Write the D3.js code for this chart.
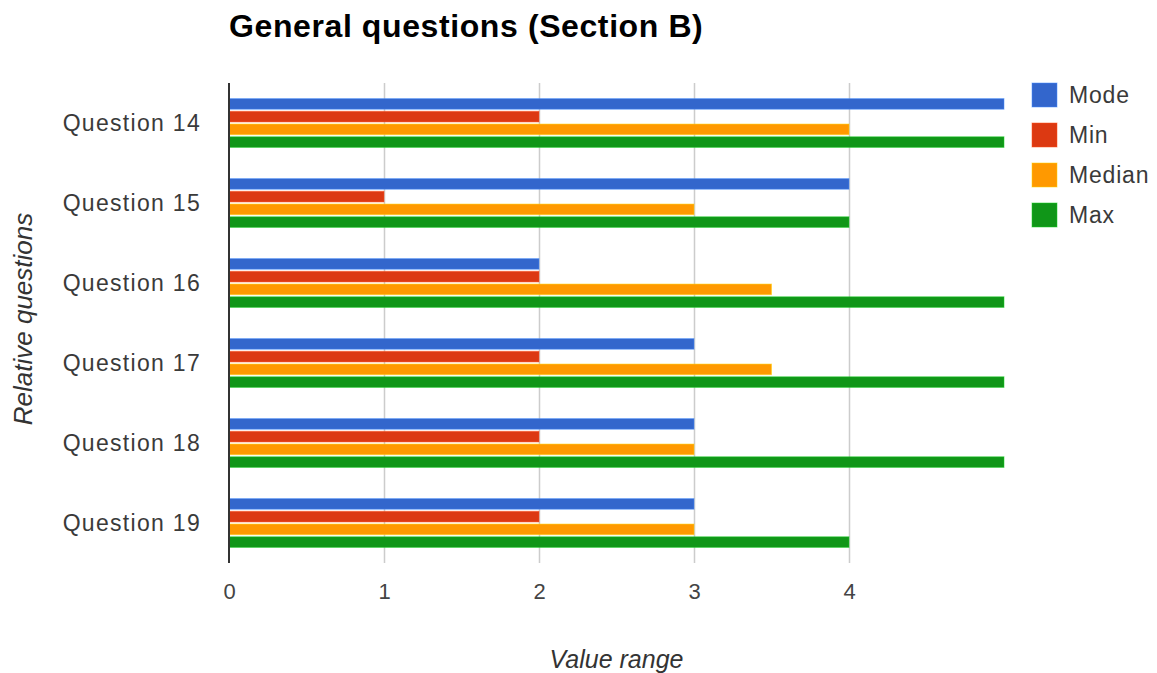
<!DOCTYPE html>
<html>
<head>
<meta charset="utf-8">
<script src="https://cdnjs.cloudflare.com/ajax/libs/d3/7.8.5/d3.min.js"></script>
<style>
  html, body { margin: 0; padding: 0; background: #fff; }
  svg { display: block; font-family: "Liberation Sans", Arial, sans-serif; }
</style>
</head>
<body>
<svg id="chart" width="1157" height="673"></svg>
<script>
// Questions and series
const categories = ["Question 14", "Question 15", "Question 16", "Question 17", "Question 18", "Question 19"];
const seriesNames = ["Mode", "Min", "Median", "Max"];
const seriesColors = ["#3366cc", "#dc3912", "#ff9900", "#109618"];

const modeValues   = [5, 4, 2, 3, 3, 3];
const minValues    = [2, 1, 2, 2, 2, 2];
const medianValues = [4, 3, 3.5, 3.5, 3, 3];
const maxValues    = [5, 4, 5, 5, 5, 4];

const xTicks = [0, 1, 2, 3, 4];
const xMax = 5;

const titleText = "General questions (Section B)";
const xTitle = "Value range";
const yTitle = "Relative questions";

const seriesValues = [modeValues, minValues, medianValues, maxValues];
const rows = categories.map((c, i) => ({
  category: c,
  values: seriesNames.map((s, k) => ({ series: s, value: seriesValues[k][i], color: seriesColors[k] }))
}));

const svg = d3.select("#chart");
const plot = { left: 229, right: 1004, top: 83, bottom: 563 };

const x = d3.scaleLinear().domain([0, xMax]).range([plot.left, plot.right]);
const y0 = d3.scaleBand().domain(categories).range([plot.top, plot.bottom])
  .paddingInner(0.39).paddingOuter(0.195);
const y1 = d3.scaleBand().domain(seriesNames).range([0, y0.bandwidth()])
  .paddingInner(0.165).paddingOuter(0);

// Title
svg.append("text")
  .attr("x", 229).attr("y", 37)
  .attr("font-size", 32).attr("font-weight", "bold")
  .attr("letter-spacing", 0.6)
  .attr("fill", "#000")
  .text(titleText);

// Vertical gridlines
svg.append("g").selectAll("line")
  .data(xTicks.filter(d => d > 0))
  .join("line")
  .attr("x1", d => Math.round(x(d)) + 0.5).attr("x2", d => Math.round(x(d)) + 0.5)
  .attr("y1", plot.top).attr("y2", plot.bottom)
  .attr("stroke", "#cccccc").attr("stroke-width", 1.5);

// Bars
const groups = svg.append("g").selectAll("g")
  .data(rows)
  .join("g")
  .attr("transform", d => `translate(0,${y0(d.category)})`);

groups.selectAll("rect")
  .data(d => d.values)
  .join("rect")
  .attr("x", x(0))
  .attr("y", d => y1(d.series))
  .attr("width", d => x(d.value) - x(0))
  .attr("height", y1.bandwidth())
  .attr("fill", d => d.color)
  .attr("stroke", d => d3.color(d.color).brighter(0.9))
  .attr("stroke-opacity", 0.5)
  .attr("stroke-width", 1);

// Left baseline
svg.append("line")
  .attr("x1", plot.left).attr("x2", plot.left)
  .attr("y1", plot.top).attr("y2", plot.bottom)
  .attr("stroke", "#333").attr("stroke-width", 2);

// X tick labels
const xAxis = d3.axisBottom(x).tickValues(xTicks).tickSize(0).tickPadding(0).tickFormat(d3.format("d"));
const xg = svg.append("g").attr("transform", `translate(0,599)`).call(xAxis);
xg.select(".domain").remove();
xg.selectAll("text")
  .attr("dy", 0).attr("y", 0)
  .attr("font-size", 22)
  .attr("font-family", "Liberation Sans, Arial, sans-serif")
  .attr("fill", "#444");

// Category labels
const yAxis = d3.axisLeft(y0).tickSize(0).tickPadding(0);
const yg = svg.append("g").attr("transform", `translate(201,0)`).call(yAxis);
yg.select(".domain").remove();
yg.selectAll("text")
  .attr("dy", "0.35em").attr("x", 0)
  .attr("font-size", 23)
  .attr("letter-spacing", 1.3)
  .attr("font-family", "Liberation Sans, Arial, sans-serif")
  .attr("fill", "#3a3a3a");

// Axis titles
svg.append("text")
  .attr("x", (plot.left + plot.right) / 2).attr("y", 668)
  .attr("text-anchor", "middle")
  .attr("font-size", 25).attr("font-style", "italic")
  .attr("fill", "#333")
  .text(xTitle);

svg.append("text")
  .attr("transform", `translate(32,${(plot.top + plot.bottom) / 2 - 4}) rotate(-90)`)
  .attr("text-anchor", "middle")
  .attr("font-size", 26).attr("font-style", "italic")
  .attr("fill", "#333")
  .text(yTitle);

// Legend
const legend = svg.append("g").attr("transform", "translate(1032,83)");
const items = legend.selectAll("g")
  .data(seriesNames.map((s, k) => ({ name: s, color: seriesColors[k] })))
  .join("g")
  .attr("transform", (d, i) => `translate(0,${i * 40})`);
items.append("rect")
  .attr("width", 25).attr("height", 24)
  .attr("fill", d => d.color)
  .attr("stroke", d => d3.color(d.color).brighter(0.9))
  .attr("stroke-opacity", 0.5);
items.append("text")
  .attr("x", 37).attr("y", 20)
  .attr("font-size", 23)
  .attr("letter-spacing", 0.8)
  .attr("fill", "#3a3a3a")
  .text(d => d.name);
</script>
</body>
</html>
